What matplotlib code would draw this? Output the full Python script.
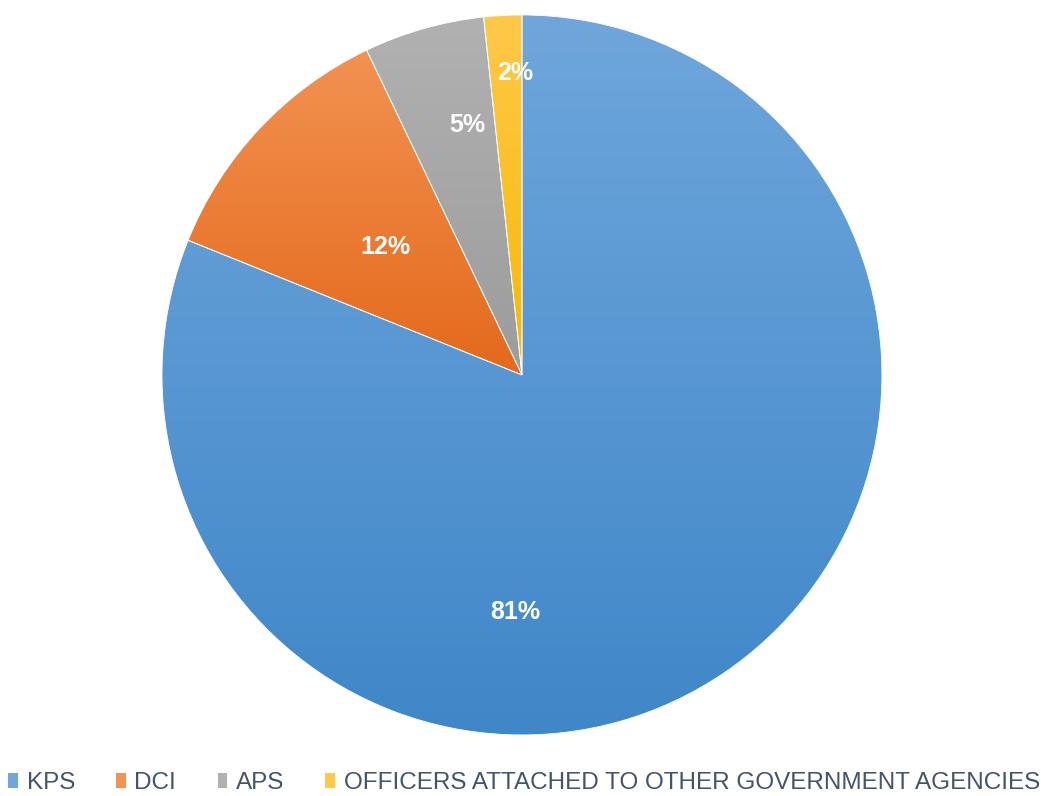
import matplotlib
matplotlib.use("Agg")
import matplotlib.pyplot as plt
import numpy as np
from matplotlib.colors import LinearSegmentedColormap
from matplotlib.patches import Patch

labels = ['KPS', 'DCI', 'APS', 'OFFICERS ATTACHED TO OTHER GOVERNMENT AGENCIES']
values = [81.1, 11.8, 5.4, 1.7]
pct_text = ['81%', '12%', '5%', '2%']

# gradient colours (top, bottom) per slice
grad = [('#6fa6dc', '#3f87c8'),
        ('#f39252', '#e4691b'),
        ('#b1b1b1', '#9c9c9c'),
        ('#ffc84a', '#f7b900')]
# label placement (excel "best fit"): angle in deg (None = mid slice), distance
label_ang = [-91.5, None, 102.4, 91.3]
label_dist = [0.66, 0.52, 0.71, 0.84]

plt.rcParams['font.family'] = ['Liberation Sans', 'DejaVu Sans']

fig = plt.figure(figsize=(10.41, 7.96), dpi=100, facecolor='w')
ax = fig.add_axes([0.1556, 0.0767, 0.6916, 0.9045])

wedges, _ = ax.pie(values, startangle=90, counterclock=False, radius=1,
                   wedgeprops=dict(linewidth=0.6, edgecolor='white'))
ax.set_aspect('equal')
ax.axis('off')

for w, (c1, c2), txt, a, d in zip(wedges, grad, pct_text, label_ang, label_dist):
    cmap = LinearSegmentedColormap.from_list('g', [c2, c1])
    # bounding box of the wedge
    path = w.get_path()
    verts = w.get_transform().transform(path.vertices)
    verts = ax.transData.inverted().transform(verts)
    x0, x1 = verts[:, 0].min(), verts[:, 0].max()
    y0, y1 = verts[:, 1].min(), verts[:, 1].max()
    img = np.linspace(0, 1, 256).reshape(-1, 1)
    im = ax.imshow(img, cmap=cmap, origin='lower', extent=[x0, x1, y0, y1],
                   aspect='auto', zorder=1)
    im.set_clip_path(w)
    w.set_facecolor('none')
    w.set_zorder(2)
    if a is None:
        a = (w.theta1 + w.theta2) / 2
    ang = np.deg2rad(a)
    ax.text(d * np.cos(ang), d * np.sin(ang), txt, color='white',
            fontsize=18, fontweight='bold', ha='center', va='center', zorder=3)

ax.set_xlim(-1, 1)
ax.set_ylim(-1, 1)

handles = [Patch(facecolor=c[0], edgecolor='none') for c in grad]
leg = fig.legend(handles, labels, loc='lower left', bbox_to_anchor=(0.008, 0.0025),
                 ncol=4, frameon=False, fontsize=17.5, handlelength=0.4,
                 handleheight=0.6, handletextpad=0.35, columnspacing=1.7,
                 borderpad=0, borderaxespad=0, labelcolor='#44546a')

fig.savefig('out.png', dpi=100, facecolor='w')
